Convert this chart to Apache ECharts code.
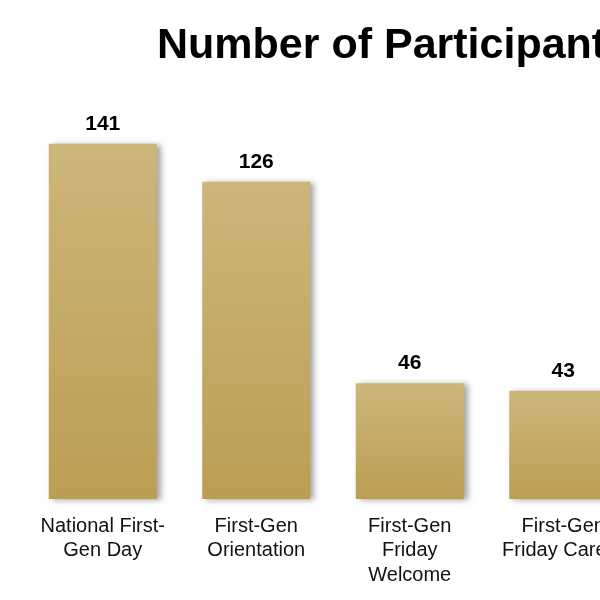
<!DOCTYPE html>
<html>
<head>
<meta charset="utf-8">
<script src="https://cdn.jsdelivr.net/npm/echarts@6/dist/echarts.min.js"></script>
<style>
  html, body { margin: 0; padding: 0; overflow: hidden; background: #fff; }
  #main { width: 680px; height: 600px; }
</style>
</head>
<body>
<div id="main"></div>
<script>
// the reference is a crop of a wider chart, so the chart runs past the right edge
var categories = ['National First-\nGen Day', 'First-Gen\nOrientation', 'First-Gen\nFriday\nWelcome', 'First-Gen\nFriday Career'];
var participants = [141, 126, 46, 43];

var participantChart = echarts.init(document.getElementById('main'));

var option_participants = {
    title: {
        text: 'Number of Participants',
        left: 152,
        top: 20,
        textStyle: {
            fontFamily: 'Liberation Sans',
            fontSize: 43,
            fontWeight: 'bold',
            color: '#000'
        }
    },
    grid: {
        left: 26,
        right: 40,
        top: 96,
        bottom: 101
    },
    xAxis: {
        type: 'category',
        data: categories,
        axisLine: { show: false },
        axisTick: { show: false },
        axisLabel: {
            interval: 0,
            margin: 15,
            fontFamily: 'Liberation Sans',
            fontSize: 20,
            lineHeight: 24.5,
            color: '#111'
        }
    },
    yAxis: {
        type: 'value',
        min: 0,
        max: 160,
        show: false,
        splitLine: { show: false }
    },
    series: [
        {
            type: 'bar',
            data: participants,
            barWidth: 108,
            itemStyle: {
                color: new echarts.graphic.LinearGradient(0, 0, 0, 1, [
                    { offset: 0, color: '#CDB67B' },
                    { offset: 1, color: '#BC9E53' }
                ]),
                shadowColor: 'rgba(90, 90, 90, 0.55)',
                shadowBlur: 6,
                shadowOffsetX: 4,
                shadowOffsetY: 1
            },
            label: {
                show: true,
                position: 'top',
                distance: 9,
                fontFamily: 'Liberation Sans',
                fontSize: 21,
                fontWeight: 'bold',
                color: '#000'
            }
        }
    ]
};

option_participants && participantChart.setOption(option_participants);
</script>
</body>
</html>
